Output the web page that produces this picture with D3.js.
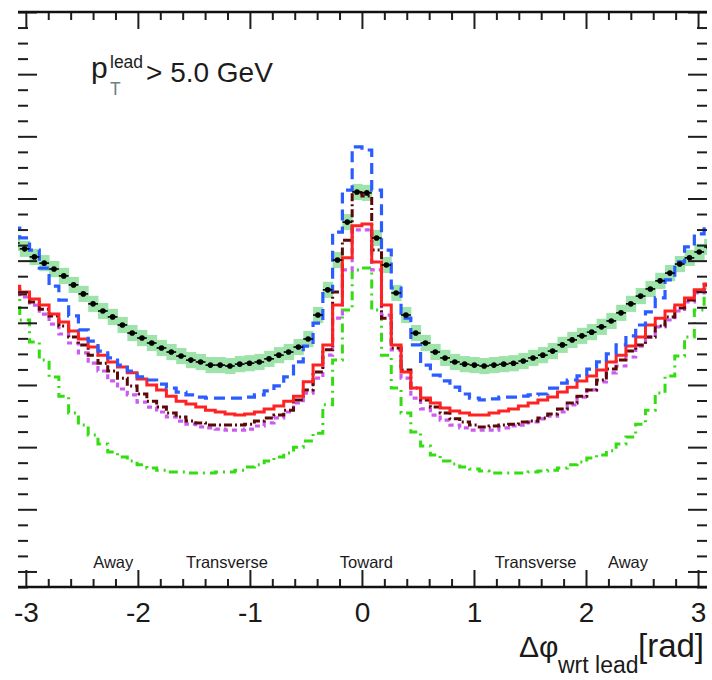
<!DOCTYPE html>
<html>
<head>
<meta charset="utf-8">
<script src="https://cdn.jsdelivr.net/npm/d3@7"></script>
<style>
  html, body { margin: 0; padding: 0; background: #fff; }
  svg { display: block; font-family: "Liberation Sans", Arial, Helvetica, sans-serif; }
</style>
</head>
<body>
<svg id="chart" width="712" height="680"></svg>
<script>
// Δφ histograms relative to the leading jet, 72 bins over [-π, π]
const phiRange = [-Math.PI, Math.PI];
const nBins = 72;

// measured data (black points with green uncertainty band)
const dataVals = [
  1.257,1.238,1.212,1.192,1.173,1.151,1.122,1.093,1.061,1.038,1.019,0.993,
  0.967,0.951,0.935,0.919,0.906,0.893,0.880,0.874,0.864,0.864,0.861,0.867,
  0.870,0.874,0.884,0.896,0.906,0.922,0.948,1.025,1.106,1.202,1.324,1.421,
  1.418,1.273,1.186,1.096,1.025,0.967,0.935,0.906,0.887,0.874,0.867,0.864,
  0.861,0.864,0.867,0.870,0.877,0.887,0.896,0.909,0.929,0.945,0.958,0.970,
  0.987,1.006,1.032,1.061,1.086,1.109,1.135,1.160,1.189,1.209,1.228,1.244
];
const dataErr = 0.026;

// model curves
const blueVals = [
  1.305,1.273,1.234,1.176,1.118,1.073,1.022,0.977,0.941,0.909,0.887,0.864,
  0.845,0.826,0.816,0.803,0.790,0.777,0.768,0.761,0.758,0.758,0.758,0.758,
  0.761,0.768,0.781,0.797,0.826,0.874,0.925,0.999,1.106,1.292,1.427,1.566,
  1.556,1.427,1.234,1.112,1.015,0.929,0.864,0.832,0.813,0.793,0.771,0.758,
  0.752,0.755,0.761,0.761,0.764,0.768,0.771,0.790,0.806,0.816,0.829,0.851,
  0.874,0.900,0.929,0.958,0.993,1.035,1.080,1.138,1.196,1.244,1.286,1.315
];
const redVals = [
  1.118,1.099,1.077,1.057,1.028,1.003,0.974,0.948,0.922,0.896,0.874,0.858,
  0.839,0.819,0.800,0.784,0.764,0.748,0.739,0.729,0.719,0.713,0.707,0.703,
  0.707,0.713,0.723,0.732,0.748,0.764,0.810,0.864,0.929,1.057,1.209,1.312,
  1.318,1.196,1.057,0.929,0.842,0.790,0.758,0.742,0.726,0.716,0.710,0.703,
  0.703,0.710,0.716,0.723,0.732,0.742,0.752,0.761,0.777,0.793,0.813,0.829,
  0.848,0.874,0.896,0.925,0.954,0.993,1.015,1.038,1.057,1.080,1.106,1.125
];
const brownVals = [
  1.115,1.093,1.067,1.044,1.022,0.990,0.954,0.929,0.896,0.870,0.845,0.822,
  0.797,0.771,0.748,0.729,0.710,0.697,0.684,0.678,0.671,0.671,0.671,0.671,
  0.674,0.684,0.694,0.703,0.719,0.752,0.784,0.842,0.913,1.099,1.266,1.418,
  1.408,1.234,1.015,0.919,0.848,0.790,0.752,0.729,0.710,0.691,0.681,0.671,
  0.665,0.668,0.671,0.674,0.681,0.684,0.694,0.707,0.723,0.742,0.764,0.784,
  0.816,0.851,0.880,0.909,0.929,0.954,0.990,1.019,1.048,1.073,1.102,1.122
];
const magentaVals = [
  1.099,1.083,1.057,1.028,0.996,0.964,0.935,0.903,0.870,0.845,0.813,0.787,
  0.768,0.745,0.729,0.713,0.697,0.684,0.674,0.665,0.662,0.658,0.655,0.655,
  0.658,0.668,0.678,0.694,0.713,0.742,0.774,0.822,0.896,1.015,1.170,1.299,
  1.299,1.170,1.025,0.913,0.822,0.758,0.723,0.703,0.687,0.671,0.662,0.655,
  0.655,0.655,0.662,0.668,0.671,0.681,0.691,0.700,0.713,0.736,0.761,0.784,
  0.810,0.839,0.861,0.890,0.925,0.954,0.987,1.009,1.038,1.067,1.096,1.112
];
const greenVals = [
  1.090,1.009,0.938,0.880,0.826,0.764,0.710,0.671,0.639,0.610,0.584,0.568,
  0.555,0.543,0.533,0.526,0.520,0.520,0.517,0.517,0.517,0.520,0.520,0.526,
  0.536,0.543,0.555,0.568,0.581,0.600,0.620,0.645,0.736,0.880,1.041,1.170,
  1.176,1.041,0.896,0.790,0.710,0.649,0.604,0.575,0.555,0.546,0.536,0.530,
  0.523,0.517,0.517,0.517,0.517,0.520,0.523,0.526,0.533,0.543,0.552,0.565,
  0.575,0.588,0.610,0.633,0.674,0.719,0.774,0.829,0.893,0.954,1.041,1.106
];

// axis ticks and annotations
const xTickLabels = [-3, -2, -1, 0, 1, 2, 3];
const yMajorTicks = d3.range(0.2, 2.001, 0.2);
const yMinorTicks = d3.range(0.15, 2.001, 0.05);
const xMinorTicks = d3.range(-3, 3.001, 0.2);
const regionNames = ["Away", "Transverse", "Toward", "Transverse", "Away"];
const regionPos = [-2.22, -1.205, 0.04, 1.55, 2.375];

const svg = d3.select("#chart");
const frameL = 18, frameR = 707, frameT = 12, frameB = 587;
const x = d3.scaleLinear().domain([-3.07, 3.08]).range([frameL, frameR]);
const y = d3.scaleLinear().domain([0.15, 2.0]).range([frameB, frameT]);

const edges = d3.range(nBins + 1).map(i => phiRange[0] + i * (phiRange[1] - phiRange[0]) / nBins);
const centers = d3.range(nBins).map(i => (edges[i] + edges[i + 1]) / 2);

svg.append("defs").append("clipPath").attr("id", "plotClip")
  .append("rect").attr("x", frameL).attr("y", frameT)
  .attr("width", frameR - frameL).attr("height", frameB - frameT);

const plot = svg.append("g").attr("clip-path", "url(#plotClip)");

// uncertainty band of the data
plot.append("g").selectAll("rect").data(dataVals).join("rect")
  .attr("x", (d, i) => x(edges[i]))
  .attr("width", (d, i) => x(edges[i + 1]) - x(edges[i]) + 0.5)
  .attr("y", d => y(d + dataErr))
  .attr("height", d => y(d - dataErr) - y(d + dataErr))
  .attr("fill", "#9ee4aa");

// step histograms
const stepLine = d3.line().x(d => x(d[0])).y(d => y(d[1])).curve(d3.curveStepAfter);
function stepPoints(vals) {
  const pts = vals.map((v, i) => [edges[i], v]);
  pts.push([edges[nBins], vals[nBins - 1]]);
  return pts;
}
const curves = [
  { vals: greenVals,   color: "#33dd11", dash: "9,5,2,5", width: 3 },
  { vals: magentaVals, color: "#cc5cf0", dash: "5,4",     width: 3.2 },
  { vals: brownVals,   color: "#5a0808", dash: "8,3,2,3", width: 3 },
  { vals: redVals,     color: "#ff2222", dash: null,      width: 3 },
  { vals: blueVals,    color: "#2a5cff", dash: "11,6",    width: 3.2 }
];
curves.forEach(c => {
  plot.append("path")
    .attr("d", stepLine(stepPoints(c.vals)))
    .attr("fill", "none")
    .attr("stroke", c.color)
    .attr("stroke-width", c.width)
    .attr("stroke-dasharray", c.dash);
});

// data points with horizontal bin-width bars
const pts = plot.append("g");
pts.selectAll("line").data(dataVals).join("line")
  .attr("x1", (d, i) => x(edges[i])).attr("x2", (d, i) => x(edges[i + 1]))
  .attr("y1", d => y(d)).attr("y2", d => y(d))
  .attr("stroke", "#000").attr("stroke-width", 1.6);
pts.selectAll("circle").data(dataVals).join("circle")
  .attr("cx", (d, i) => x(centers[i])).attr("cy", d => y(d))
  .attr("r", 2.8).attr("fill", "#000");

// axes: ticks point inward on all four sides
const tickColor = "#1e1e1e";
function styleAxis(g) {
  g.select(".domain").remove();
  g.selectAll(".tick line").attr("stroke", tickColor).attr("stroke-width", 2);
}
const nonMajor = arr => arr.filter(v => !xTickLabels.some(t => Math.abs(t - v) < 1e-6));
const yMinorOnly = yMinorTicks.filter(v => !yMajorTicks.some(t => Math.abs(t - v) < 1e-6));

// bottom
const bottomAxis = svg.append("g").attr("transform", `translate(0,${frameB})`)
  .call(d3.axisBottom(x).tickValues(xTickLabels).tickSizeInner(-17).tickSizeOuter(0)
    .tickPadding(15).tickFormat(d => String(d)))
  .call(styleAxis);
bottomAxis.selectAll(".tick text").attr("font-size", 28).attr("fill", "#1a1a1a")
  .attr("font-family", "Liberation Sans, Arial, sans-serif");
svg.append("g").attr("transform", `translate(0,${frameB})`)
  .call(d3.axisBottom(x).tickValues(nonMajor(xMinorTicks)).tickSizeInner(-8).tickSizeOuter(0).tickFormat(""))
  .call(styleAxis);
// top
svg.append("g").attr("transform", `translate(0,${frameT})`)
  .call(d3.axisBottom(x).tickValues(xTickLabels).tickSizeInner(17).tickSizeOuter(0).tickFormat(""))
  .call(styleAxis);
svg.append("g").attr("transform", `translate(0,${frameT})`)
  .call(d3.axisBottom(x).tickValues(nonMajor(xMinorTicks)).tickSizeInner(8).tickSizeOuter(0).tickFormat(""))
  .call(styleAxis);
// left
svg.append("g").attr("transform", `translate(${frameL},0)`)
  .call(d3.axisRight(y).tickValues(yMajorTicks).tickSizeInner(19).tickSizeOuter(0).tickFormat(""))
  .call(styleAxis);
svg.append("g").attr("transform", `translate(${frameL},0)`)
  .call(d3.axisRight(y).tickValues(yMinorOnly).tickSizeInner(10).tickSizeOuter(0).tickFormat(""))
  .call(styleAxis);
// right
svg.append("g").attr("transform", `translate(${frameR},0)`)
  .call(d3.axisLeft(y).tickValues(yMajorTicks).tickSizeInner(19).tickSizeOuter(0).tickFormat(""))
  .call(styleAxis);
svg.append("g").attr("transform", `translate(${frameR},0)`)
  .call(d3.axisLeft(y).tickValues(yMinorOnly).tickSizeInner(10).tickSizeOuter(0).tickFormat(""))
  .call(styleAxis);

// frame lines along top and bottom
[frameT, frameB].forEach(yy => {
  svg.append("line").attr("x1", frameL).attr("x2", frameR).attr("y1", yy).attr("y2", yy)
    .attr("stroke", "#111").attr("stroke-width", 2.6);
});

// region names along the bottom of the frame
svg.append("g").selectAll("text").data(regionNames).join("text")
  .attr("x", (d, i) => x(regionPos[i])).attr("y", 568)
  .attr("text-anchor", "middle").attr("font-size", 16.5).attr("fill", "#1a1a1a")
  .text(d => d);

// selection label
const lab = svg.append("g").attr("fill", "#1c1c1c");
lab.append("text").attr("x", 91).attr("y", 78).attr("font-size", 30).text("p");
lab.append("text").attr("x", 110).attr("y", 68).attr("font-size", 17.5).text("lead");
lab.append("text").attr("x", 110).attr("y", 95).attr("font-size", 17.5).attr("fill", "#6f7f7f").text("T");
lab.append("text").attr("x", 146).attr("y", 82).attr("font-size", 28).text("> 5.0 GeV");

// x-axis title
const ttl = svg.append("g").attr("fill", "#1a1a1a");
ttl.append("text").attr("x", 519).attr("y", 657).attr("font-size", 30).text("Δφ");
ttl.append("text").attr("x", 558).attr("y", 673).attr("font-size", 23).text("wrt lead");
ttl.append("text").attr("x", 638).attr("y", 657).attr("font-size", 33).text("[rad]");
</script>
</body>
</html>
